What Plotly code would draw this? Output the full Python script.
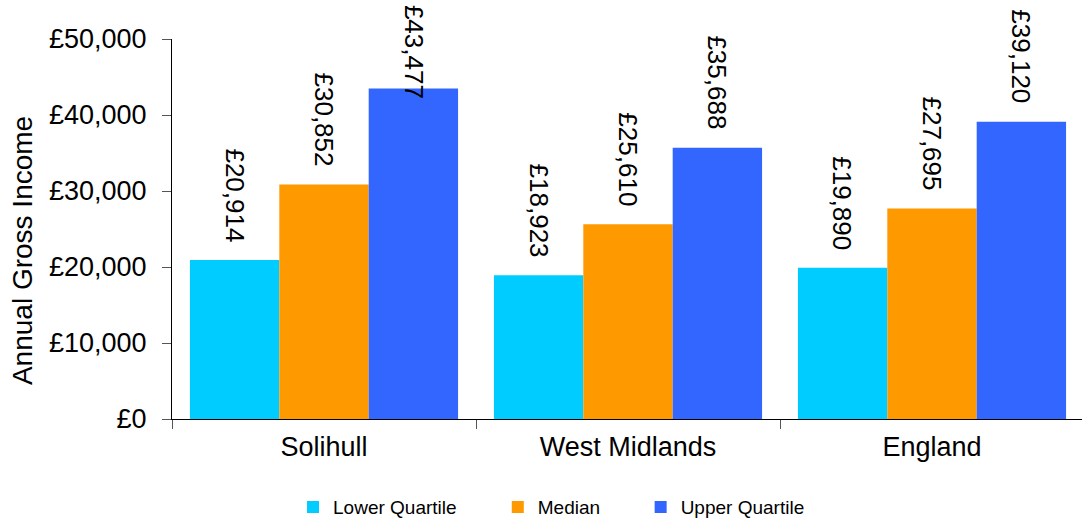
import plotly.graph_objects as go

# Annual gross income by area and quartile
areas = ["Solihull", "West Midlands", "England"]
series_names = ["Lower Quartile", "Median", "Upper Quartile"]
lower_quartile = [20914, 18923, 19890]
median = [30852, 25610, 27695]
upper_quartile = [43477, 35688, 39120]
y_tick_values = [0, 10000, 20000, 30000, 40000, 50000]
y_tick_labels = ["£0", "£10,000", "£20,000", "£30,000", "£40,000", "£50,000"]

series_values = [lower_quartile, median, upper_quartile]
colors = ["#00CCFF", "#FF9900", "#3366FF"]

FONT = "Liberation Sans, Arial, sans-serif"
LABEL_CEILING = 39700  # keep the tallest labels inside the page

fig = go.Figure()
legend_ids = ["legend", "legend2", "legend3"]
for name, vals, col, lg in zip(series_names, series_values, colors, legend_ids):
    fig.add_trace(go.Bar(
        name=name, x=areas, y=vals, marker=dict(color=col, line=dict(width=0)),
        legend=lg,
    ))

# Value labels above each bar, rotated to read downwards
bar_px = 304 * (1 - 0.118) / 3
annotations = []
for i, vals in enumerate(series_values):
    for area, v in zip(areas, vals):
        annotations.append(dict(
            x=area, y=min(v, LABEL_CEILING), xref="x", yref="y",
            text=f"£{v:,}", textangle=90, showarrow=False,
            xanchor="center", yanchor="bottom",
            xshift=(i - 1) * bar_px, yshift=16,
            font=dict(family=FONT, size=26, color="#000000"),
        ))

# Y-axis title, set slightly below the vertical centre of the axis
annotations.append(dict(
    x=-0.1648, y=0.442, xref="paper", yref="paper",
    text="Annual Gross Income", textangle=-90, showarrow=False,
    xanchor="center", yanchor="middle",
    font=dict(family=FONT, size=28, color="#000000"),
))

legend_style = dict(
    orientation="h", yanchor="middle", y=-0.232, xanchor="left",
    font=dict(family=FONT, size=19, color="#000000"),
    bgcolor="rgba(0,0,0,0)", itemwidth=30,
)

fig.update_layout(
    width=1082, height=522,
    margin=dict(l=172, r=0, t=39, b=103, autoexpand=False),
    paper_bgcolor="white", plot_bgcolor="white",
    barmode="group", bargap=0.118, bargroupgap=0,
    font=dict(family=FONT, size=27, color="#000000"),
    annotations=annotations,
    legend=dict(x=0.133, **legend_style),
    legend2=dict(x=0.358, **legend_style),
    legend3=dict(x=0.515, **legend_style),
    showlegend=True,
)

fig.update_xaxes(
    range=[-0.5, -0.5 + 910 / 304],
    showline=True, linecolor="#000000", linewidth=1,
    ticks="outside", tickson="boundaries", ticklen=9, tickcolor="#555555",
    tickfont=dict(family=FONT, size=27, color="#000000"),
    ticklabelstandoff=4,
    showgrid=False, zeroline=False, automargin=False,
)
fig.update_yaxes(
    range=[0, 50000],
    tickvals=y_tick_values, ticktext=y_tick_labels,
    showline=True, linecolor="#000000", linewidth=1,
    ticks="outside", ticklen=9, tickcolor="#555555",
    tickfont=dict(family=FONT, size=27, color="#000000"),
    ticklabelstandoff=10,
    showgrid=False, zeroline=False, automargin=False,
)

fig.write_html("out.html")
